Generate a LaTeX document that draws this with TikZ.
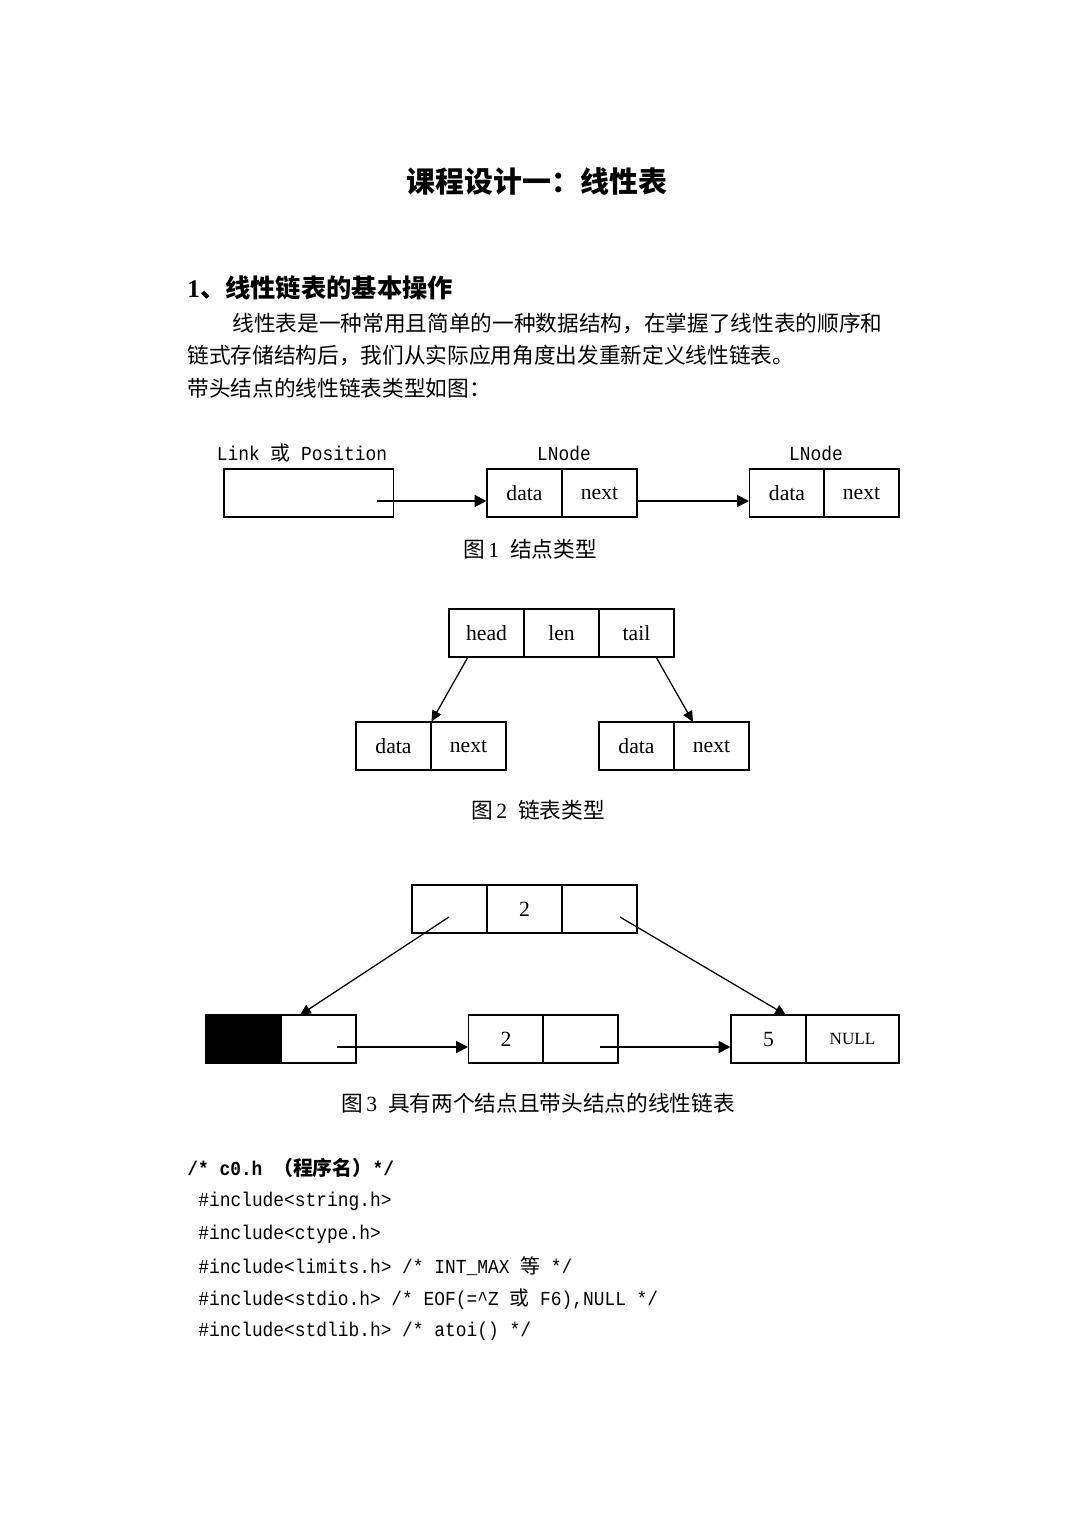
\documentclass[tikz,border=0pt]{standalone}
\usepackage{fontspec}
\setmainfont{Liberation Serif}
\newfontfamily\cjk{Noto Sans CJK SC}
\newfontfamily\codefont[FakeStretch=0.90]{Liberation Mono}
\usetikzlibrary{arrows.meta,positioning}
\tikzset{
  cell/.style={draw, line width=0.6pt, minimum width=41.5pt, minimum height=26.6pt, inner sep=0pt, font=\fontsize{12}{14}\selectfont},
  body/.style={inner sep=0pt, anchor=west, font=\cjk\fontsize{12}{14}\selectfont},
  figcap/.style={inner sep=0pt, font=\cjk\fontsize{12}{14}\selectfont},
  code/.style={inner sep=0pt, anchor=west, font=\codefont\fontsize{11}{13}\selectfont},
  lbl/.style={inner sep=0pt, font=\codefont\fontsize{11}{13}\selectfont},
  arr/.style={-{Triangle[length=6.5pt,width=6.5pt]}, line width=1.1pt},
  thinarr/.style={-{Triangle[length=6pt,width=5.5pt]}, line width=0.7pt}
}
\begin{document}
\begin{tikzpicture}[x=0.5536pt,y=-0.5536pt]
\useasboundingbox (0,0) rectangle (1075,1518);
% title and text
\node[inner sep=0pt, font=\cjk\bfseries\fontsize{16}{19}\selectfont] (title) at (537,182) {课程设计一：线性表};
\node[body, font=\cjk\bfseries\fontsize{14}{17}\selectfont] (sec) at (187,288) {{\rmfamily\bfseries 1}、线性链表的基本操作};
\node[body] (p1) at (232,323) {线性表是一种常用且简单的一种数据结构，在掌握了线性表的顺序和};
\node[body] (p2) at (187,355) {链式存储结构后，我们从实际应用角度出发重新定义线性链表。};
\node[body] (p3) at (187,388) {带头结点的线性链表类型如图：};

% figure 1
\node[cell, minimum width=93.6pt] (lk) at (308.5,493) {};
\node[cell] (a1d) at (524.5,493) {data};
\node[cell] (a1n) at (599.5,493) {next};
\node[cell] (a2d) at (787,493) {data};
\node[cell] (a2n) at (861.5,493) {next};
\node[lbl] (lkl) at (302,453) {Link {\cjk 或} Position};
\node[lbl] (a1l) at (564,453) {LNode};
\node[lbl] (a2l) at (816,453) {LNode};
\coordinate (lkp) at (377,501);
\draw[arr] (lkp) -- (lkp -| a1d.west);
\draw[arr] (a1n.east |- lkp) -- (lkp -| a2d.west);
\node[figcap] (cap1) at (530,549) {图\,{\rmfamily 1}\enspace 结点类型};

% figure 2
\node[cell] (hd) at (486.5,633) {head};
\node[cell] (ln) at (561.5,633) {len};
\node[cell] (tl) at (636.5,633) {tail};
\node[cell] (bld) at (393.5,746) {data};
\node[cell] (bln) at (468.5,746) {next};
\node[cell] (brd) at (636.5,746) {data};
\node[cell] (brn) at (711.5,746) {next};
\coordinate (hdp) at (468,657);
\coordinate (tlp) at (656,657);
\coordinate (brp) at (693,722);
\draw[thinarr] (hdp) -- (bld.north east);
\draw[thinarr] (tlp) -- (brp);
\node[figcap] (cap2) at (538,810) {图\,{\rmfamily 2}\enspace 链表类型};

% figure 3
\node[cell] (th) at (449.5,909) {};
\node[cell] (tc) at (524.5,909) {2};
\node[cell] (tt) at (599.5,909) {};
\node[cell, fill=black] (hb) at (243,1039) {};
\node[cell] (hn) at (318.5,1039) {};
\node[cell] (m1d) at (506,1039) {2};
\node[cell] (m1n) at (580.5,1039) {};
\node[cell] (e1d) at (768.5,1039) {5};
\node[cell, minimum width=51.5pt, font=\fontsize{9.5}{11}\selectfont] (e1n) at (852.5,1039) {NULL};
\coordinate (thp) at (449,917);
\coordinate (ttp) at (620,917);
\coordinate (hbp) at (300,1015);
\coordinate (e1p) at (786,1015);
\coordinate (hnp) at (337,1047);
\coordinate (m1p) at (600,1047);
\draw[thinarr] (thp) -- (hbp);
\draw[thinarr] (ttp) -- (e1p);
\draw[arr] (hnp) -- (hnp -| m1d.west);
\draw[arr] (m1p) -- (m1p -| e1d.west);
\node[figcap] (cap3) at (538,1103) {图\,{\rmfamily 3}\enspace 具有两个结点且带头结点的线性链表};

% code
\node[code, font=\codefont\bfseries\fontsize{11}{13}\selectfont] (c0) at (187,1168) {/* c0.h {\cjk\bfseries （程序名）}*/};
\node[code] (c1) at (198,1201) {\#include<string.h>};
\node[code] (c2) at (198,1234) {\#include<ctype.h>};
\node[code] (c3) at (198,1266) {\#include<limits.h> /* INT\_MAX {\cjk 等} */};
\node[code] (c4) at (198,1299) {\#include<stdio.h> /* EOF(=\textasciicircum Z {\cjk 或} F6),NULL */};
\node[code] (c5) at (198,1331) {\#include<stdlib.h> /* atoi() */};
\end{tikzpicture}
\end{document}
